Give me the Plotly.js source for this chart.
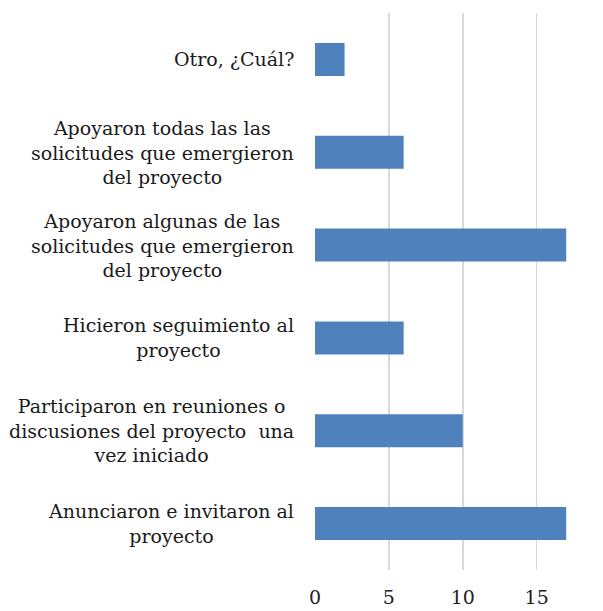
<!DOCTYPE html>
<html>
<head>
<meta charset="utf-8">
<script src="https://cdn.plot.ly/plotly-3.0.1.min.js"></script>
<style>html,body{margin:0;padding:0;background:#fff;}#chart{width:603px;height:611px;}</style>
</head>
<body>
<div id="chart"></div>
<script>
const categories = [
  "Otro, ¿Cuál?",
  "Apoyaron todas las las<br>solicitudes que emergieron<br>del proyecto",
  "Apoyaron algunas de las<br>solicitudes que emergieron<br>del proyecto",
  "Hicieron seguimiento al<br>proyecto",
  "Participaron en reuniones o<br>discusiones del proyecto  una<br>vez iniciado",
  "Anunciaron e invitaron al<br>proyecto"
];
const values = [2, 6, 17, 6, 10, 17];
const tickVals = [0, 5, 10, 15];
const tickText = ["0", "5", "10", "15"];

const fontFam = "'DejaVu Serif', 'Liberation Serif', serif";

const trace = {
  type: 'bar',
  orientation: 'h',
  x: values,
  y: categories,
  marker: {color: '#4F81BD', line: {width: 0}},
  hoverinfo: 'none'
};

const annotations = categories.map((c) => ({
  xref: 'paper', yref: 'y', x: 0, y: c,
  xanchor: 'right', yanchor: 'middle', xshift: -19,
  text: c, align: 'center', showarrow: false,
  font: {family: fontFam, size: 19, color: '#1a1a1a'}
}));

const layout = {
  width: 603, height: 611,
  margin: {l: 315, r: 22, t: 13, b: 41},
  paper_bgcolor: '#fff', plot_bgcolor: '#fff',
  showlegend: false,
  bargap: 0.645,
  xaxis: {
    range: [0, 18], tickvals: tickVals, ticktext: tickText,
    showgrid: true, gridcolor: '#d9d9d9', gridwidth: 1.5,
    zeroline: false, showline: false, ticks: '',
    ticklabelstandoff: 14,
    tickfont: {family: fontFam, size: 19, color: '#222'}
  },
  yaxis: {
    type: 'category', autorange: 'reversed',
    showticklabels: false, showgrid: false, zeroline: false, showline: false, ticks: ''
  },
  annotations: annotations
};

Plotly.newPlot('chart', [trace], layout, {displayModeBar: false, staticPlot: true});
</script>
</body>
</html>
